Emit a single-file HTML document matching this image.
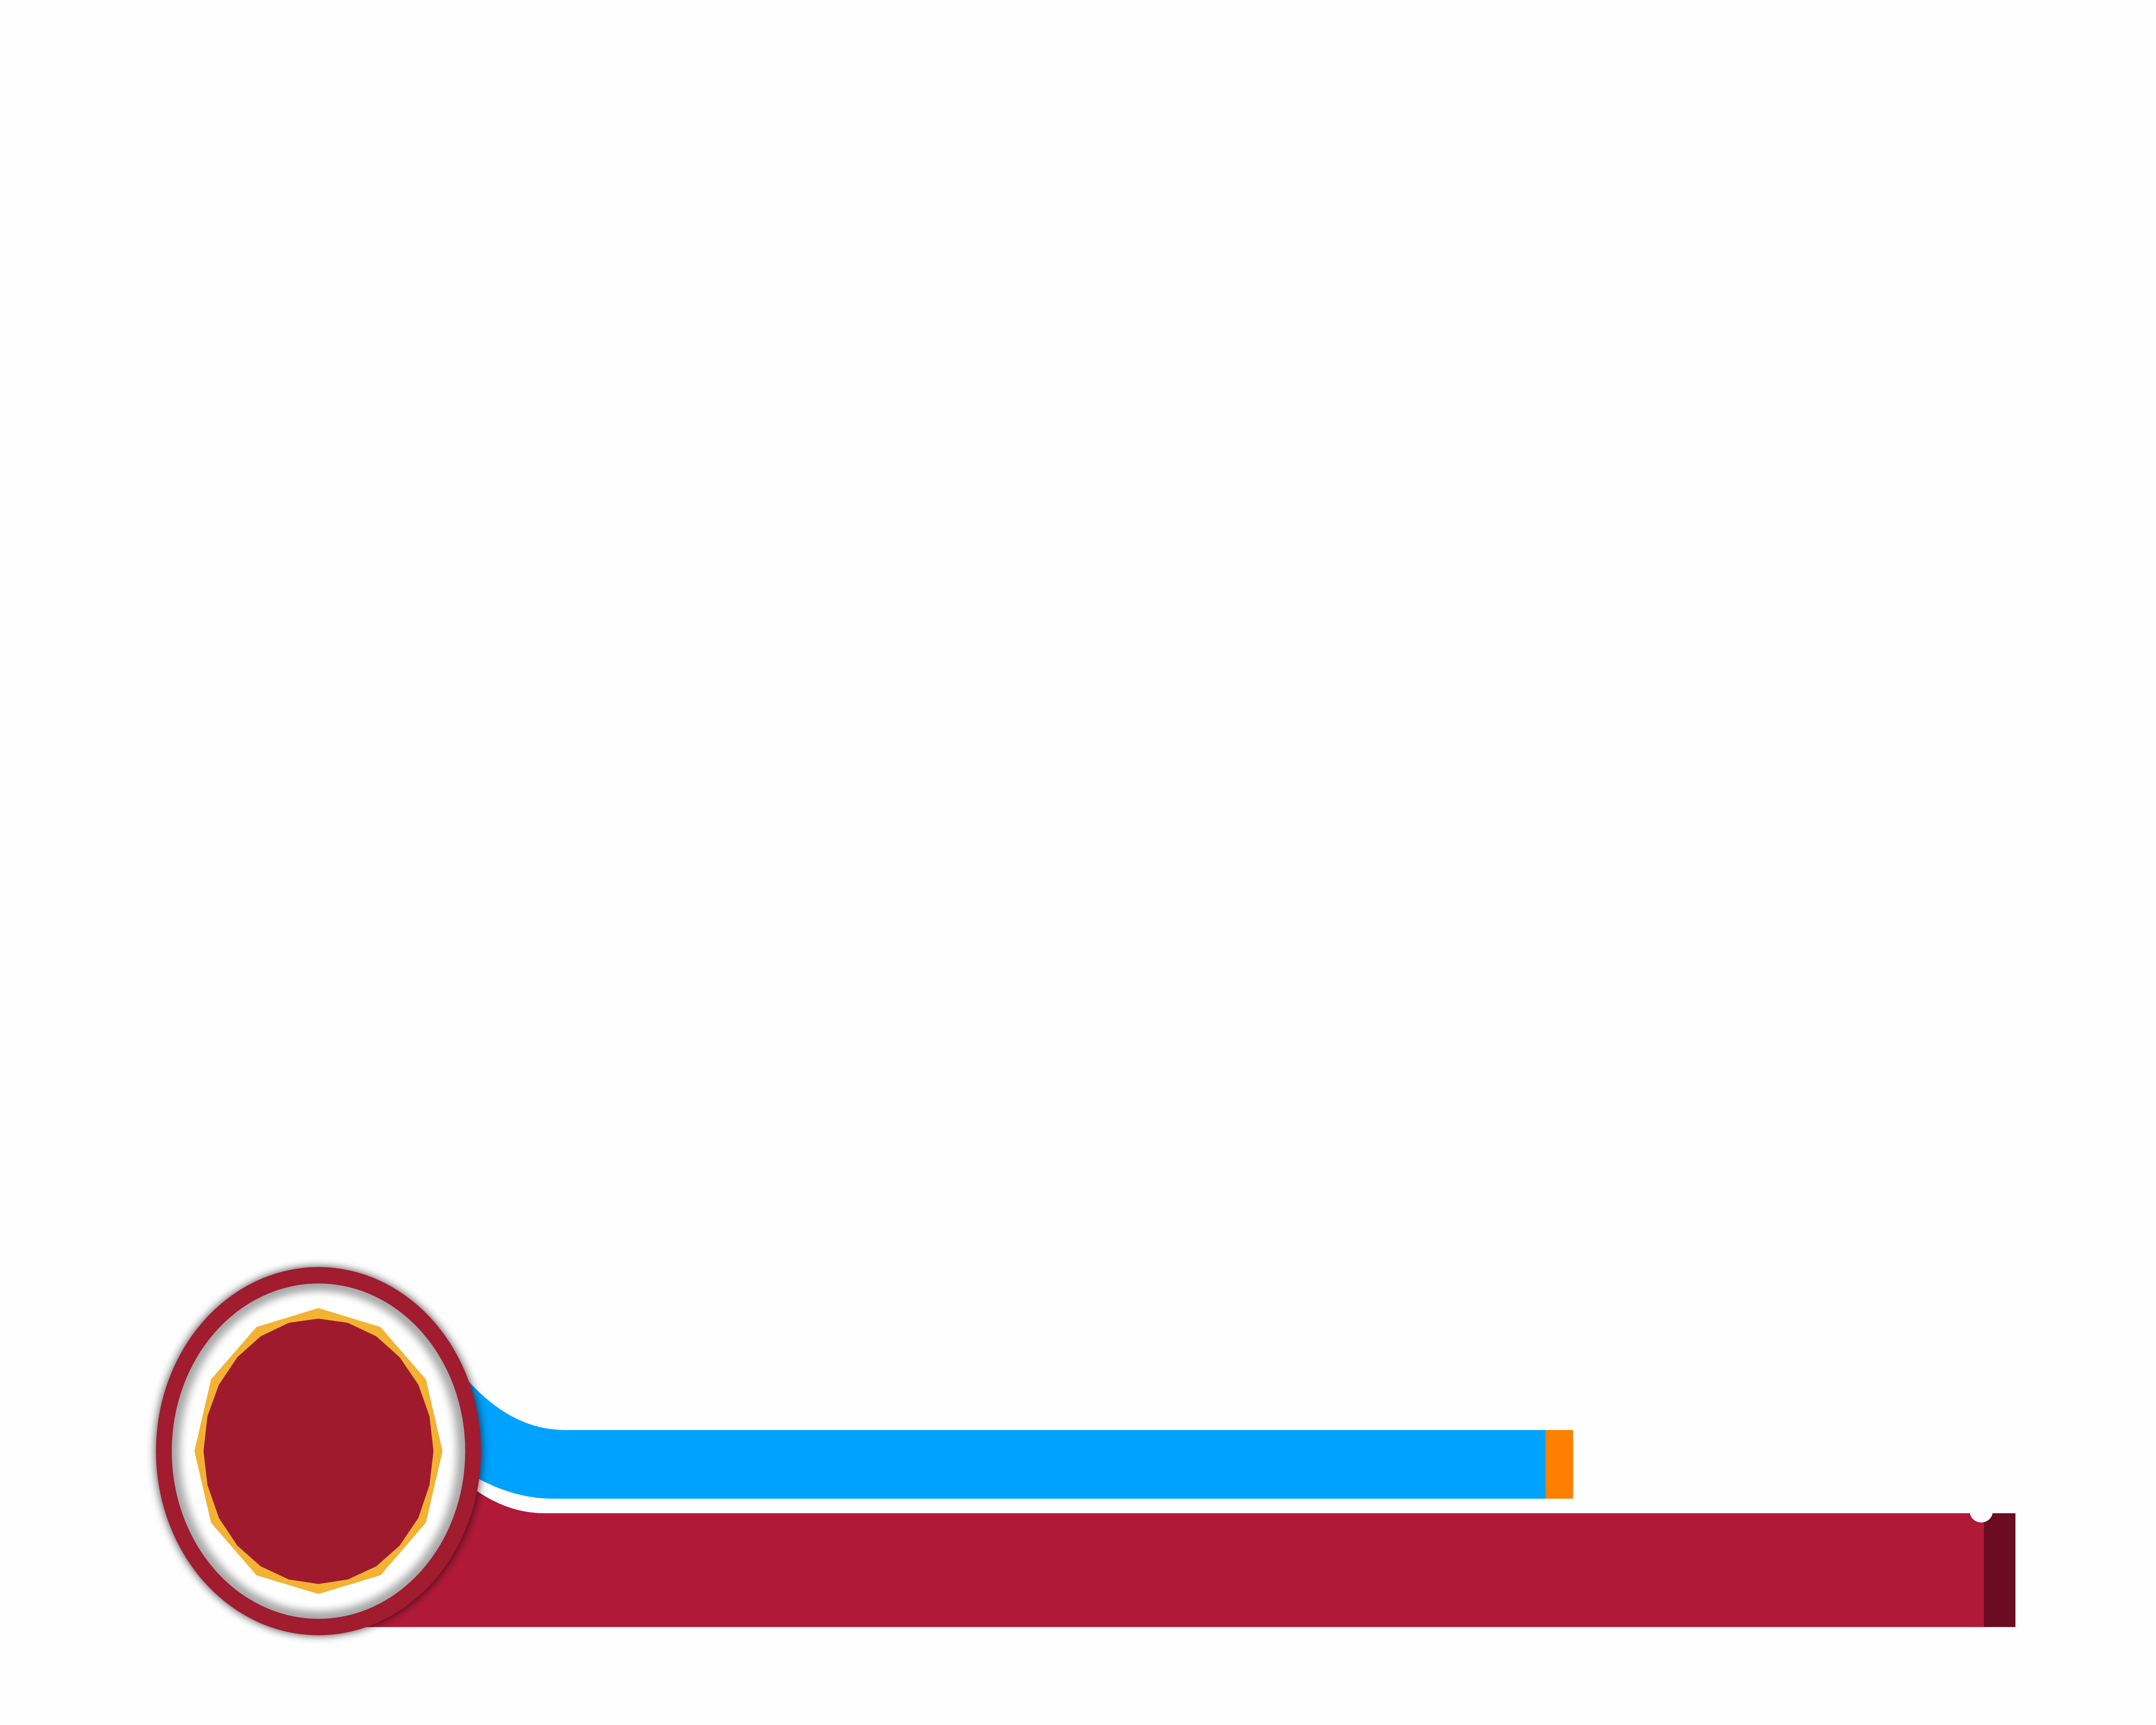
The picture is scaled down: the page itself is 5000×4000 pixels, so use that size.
<!DOCTYPE html>
<html><head><meta charset="utf-8"><style>
html,body{margin:0;padding:0;background:#fefefe;}
svg{display:block;}
</style></head><body>
<svg width="5000" height="4000" viewBox="0 0 5000 4000" xmlns="http://www.w3.org/2000/svg">
<defs>
<filter id="sh" x="-20%" y="-20%" width="140%" height="140%">
<feGaussianBlur in="SourceAlpha" stdDeviation="16"/>
<feOffset dx="0" dy="0"/>
<feComponentTransfer><feFuncA type="linear" slope="0.75"/></feComponentTransfer>
<feMerge><feMergeNode/><feMergeNode in="SourceGraphic"/></feMerge>
</filter>
<filter id="inner" x="-10%" y="-10%" width="120%" height="120%">
<feGaussianBlur stdDeviation="14"/>
</filter>
<clipPath id="innerclip"><ellipse cx="625" cy="792" rx="485" ry="635"/></clipPath>
</defs>
<rect width="5000" height="4000" fill="#fefefe"/>
<g transform="translate(300,2880) scale(0.70175,0.61237)">
  <path d="M1060,440 Q1230,712 1440,712 L4681,712 L4681,972 L1400,972 Q1250,972 1100,860 Z" fill="#00a2ff"/>
  <rect x="4681" y="712" width="90" height="260" fill="#ff7f00"/>
  <path d="M1100,900 Q1230,1027 1370,1027 L6128,1027 L6128,1458 L700,1458 Z" fill="#b01a38"/>
  <rect x="6128" y="1027" width="105" height="431" fill="#6b0c22"/>
  <ellipse cx="6120" cy="1020" rx="38" ry="42" fill="#fefefe"/>
  <ellipse cx="625" cy="792" rx="537" ry="697" fill="#a01a2e" filter="url(#sh)"/>
  <g clip-path="url(#innerclip)">
    <ellipse cx="625" cy="792" rx="485" ry="635" fill="#a8a8a8"/>
    <ellipse cx="625" cy="792" rx="458" ry="606" fill="#ffffff" filter="url(#inner)"/>
  </g>
  <polygon points="625,250 830,322 980,520 1035,792 980,1063 830,1262 625,1333 420,1262 270,1063 215,792 270,520 420,322" fill="#f4b233"/>
  <polygon points="625,290 722,306 816,357 893,436 955,540 992,660 1005,792 992,920 955,1045 893,1150 816,1228 722,1278 625,1295 527,1278 434,1228 357,1150 296,1045 258,920 245,792 258,660 296,540 357,436 434,357 527,306" fill="#a01a2e"/>
</g>
</svg>
</body></html>
